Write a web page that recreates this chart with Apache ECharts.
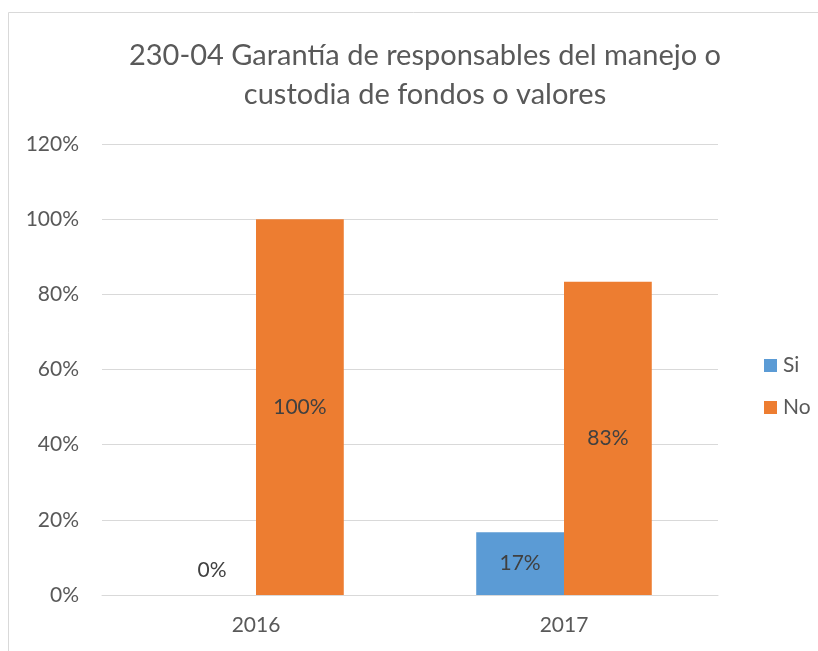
<!DOCTYPE html>
<html lang="es">
<head>
  <meta charset="UTF-8">
  <title>230-04 Garantía</title>
  <style>
    html, body { margin: 0; padding: 0; background: #fff; }
    #chart { width: 818px; height: 651px; }
  </style>
</head>
<body>
  <div id="chart"></div>
  <script src="https://cdn.jsdelivr.net/npm/echarts@6/dist/echarts.min.js"></script>
  <script>
    // datos
    const years = ['2016', '2017'];
    const si = [0, 0.1667];
    const no = [1, 0.8333];
    const yTicks = [0, 0.2, 0.4, 0.6, 0.8, 1.0, 1.2];

    const font = 'Lato';
    const pct = v => Math.round(v * 100) + '%';

    // etiqueta arriba cuando la barra es 0 (como en Excel)
    function toItems(arr) {
      return arr.map(v => v === 0
        ? { value: v, label: { position: 'top', distance: 14 } }
        : v);
    }

    const chart = echarts.init(document.getElementById('chart'));
    const barLabel = {
      show: true,
      position: 'inside',
      fontFamily: font,
      fontSize: 21,
      color: '#404040',
      formatter: p => pct(p.value)
    };

    chart.setOption({
      animation: false,
      title: {
        text: '230-04 Garantía de responsables del manejo o\ncustodia de fondos o valores',
        left: 420,
        top: 31,
        textAlign: 'center',
        textStyle: {
          fontFamily: font,
          fontSize: 29,
          fontWeight: 'normal',
          color: '#595959',
          lineHeight: 39
        }
      },
      graphic: [{
        type: 'rect',
        shape: { x: 8.5, y: 12.5, width: 900, height: 700 },
        style: { fill: 'none', stroke: '#d9d9d9', lineWidth: 1 },
        silent: true
      }],
      legend: {
        data: ['Si', 'No'],
        orient: 'vertical',
        left: 759,
        top: 350,
        itemWidth: 13,
        itemHeight: 13,
        itemGap: 21,
        icon: 'rect',
        textStyle: { fontFamily: font, fontSize: 21, color: '#595959', padding: [0, 0, 0, 1] }
      },
      grid: { left: 102, right: 100, top: 144, bottom: 56 },
      xAxis: {
        type: 'category',
        data: years,
        axisLine: { lineStyle: { color: '#d9d9d9' } },
        axisTick: { show: false },
        axisLabel: { fontFamily: font, fontSize: 21, color: '#595959', margin: 20 }
      },
      yAxis: {
        type: 'value',
        min: yTicks[0],
        max: yTicks[yTicks.length - 1],
        interval: 0.2,
        axisLine: { show: false },
        axisTick: { show: false },
        splitLine: { lineStyle: { color: '#d9d9d9' } },
        axisLabel: { fontFamily: font, fontSize: 21, color: '#595959', margin: 23, formatter: v => pct(v) }
      },
      series: [{
        name: 'Si',
        type: 'bar',
        data: toItems(si),
        itemStyle: { color: '#5B9BD5' },
        barGap: '0%',
        barCategoryGap: '43%',
        label: barLabel
      }, {
        name: 'No',
        type: 'bar',
        data: toItems(no),
        itemStyle: { color: '#ED7D31' },
        barGap: '0%',
        barCategoryGap: '43%',
        label: barLabel
      }]
    });
  </script>
</body>
</html>
